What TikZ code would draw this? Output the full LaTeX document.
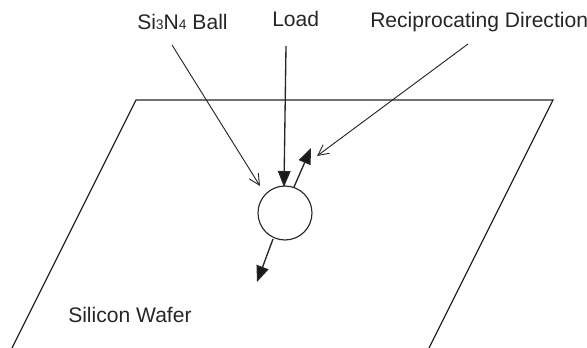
\documentclass[tikz,border=0pt]{standalone}
\usepackage{fontspec}
\setmainfont{Liberation Sans}
\usetikzlibrary{arrows.meta}
\tikzset{
  x=0.75pt,y=-0.75pt,
  label text/.style={inner sep=0pt,anchor=base west,font=\fontsize{15.8pt}{18pt}\selectfont,text=black!85},
  edge line/.style={line width=0.85pt,black!85},
  open tip/.style={line width=0.7pt,black!85,-{Straight Barb[length=8pt,width=8pt]}},
  solid tip/.style={line width=1pt,black!85,-{Triangle[length=12pt,width=9.5pt,fill=black!90]}},
  ball/.style={circle,draw=black!85,line width=0.85pt,minimum size=40.5pt,inner sep=0pt}
}
\begin{document}
\begin{tikzpicture}
\useasboundingbox (0,0) rectangle (587,348);
\node[label text] (si) at (137,30) {Si{\fontsize{10.4pt}{12pt}\selectfont 3}N{\fontsize{10.4pt}{12pt}\selectfont 4} Ball};
\node[label text] (load) at (272,27) {Load};
\node[label text] (rec) at (370,28) {Reciprocating Direction};
\node[label text] (wafer) at (68,323) {Silicon Wafer};
\node[ball] (b) at (285,213) {};
\coordinate (pa) at (136,100);
\coordinate (pb) at (553,100);
\coordinate (pc) at (429,348);
\coordinate (pd) at (12,348);
\draw[edge line] (pd) -- (pa) -- (pb) -- (pc);
\coordinate (s0) at (172,45);
\coordinate (s1) at (260,186);
\coordinate (l0) at (286,46);
\coordinate (l1) at (284,187);
\coordinate (r0) at (468,44);
\coordinate (r1) at (317,156);
\coordinate (u0) at (294,187);
\coordinate (u1) at (311,148);
\coordinate (d0) at (273,239);
\coordinate (d1) at (257,282);
\draw[open tip] (s0) -- (s1);
\draw[open tip] (r0) -- (r1);
\draw[solid tip] (l0) -- (l1);
\draw[solid tip] (u0) -- (u1);
\draw[solid tip] (d0) -- (d1);
\end{tikzpicture}
\end{document}
